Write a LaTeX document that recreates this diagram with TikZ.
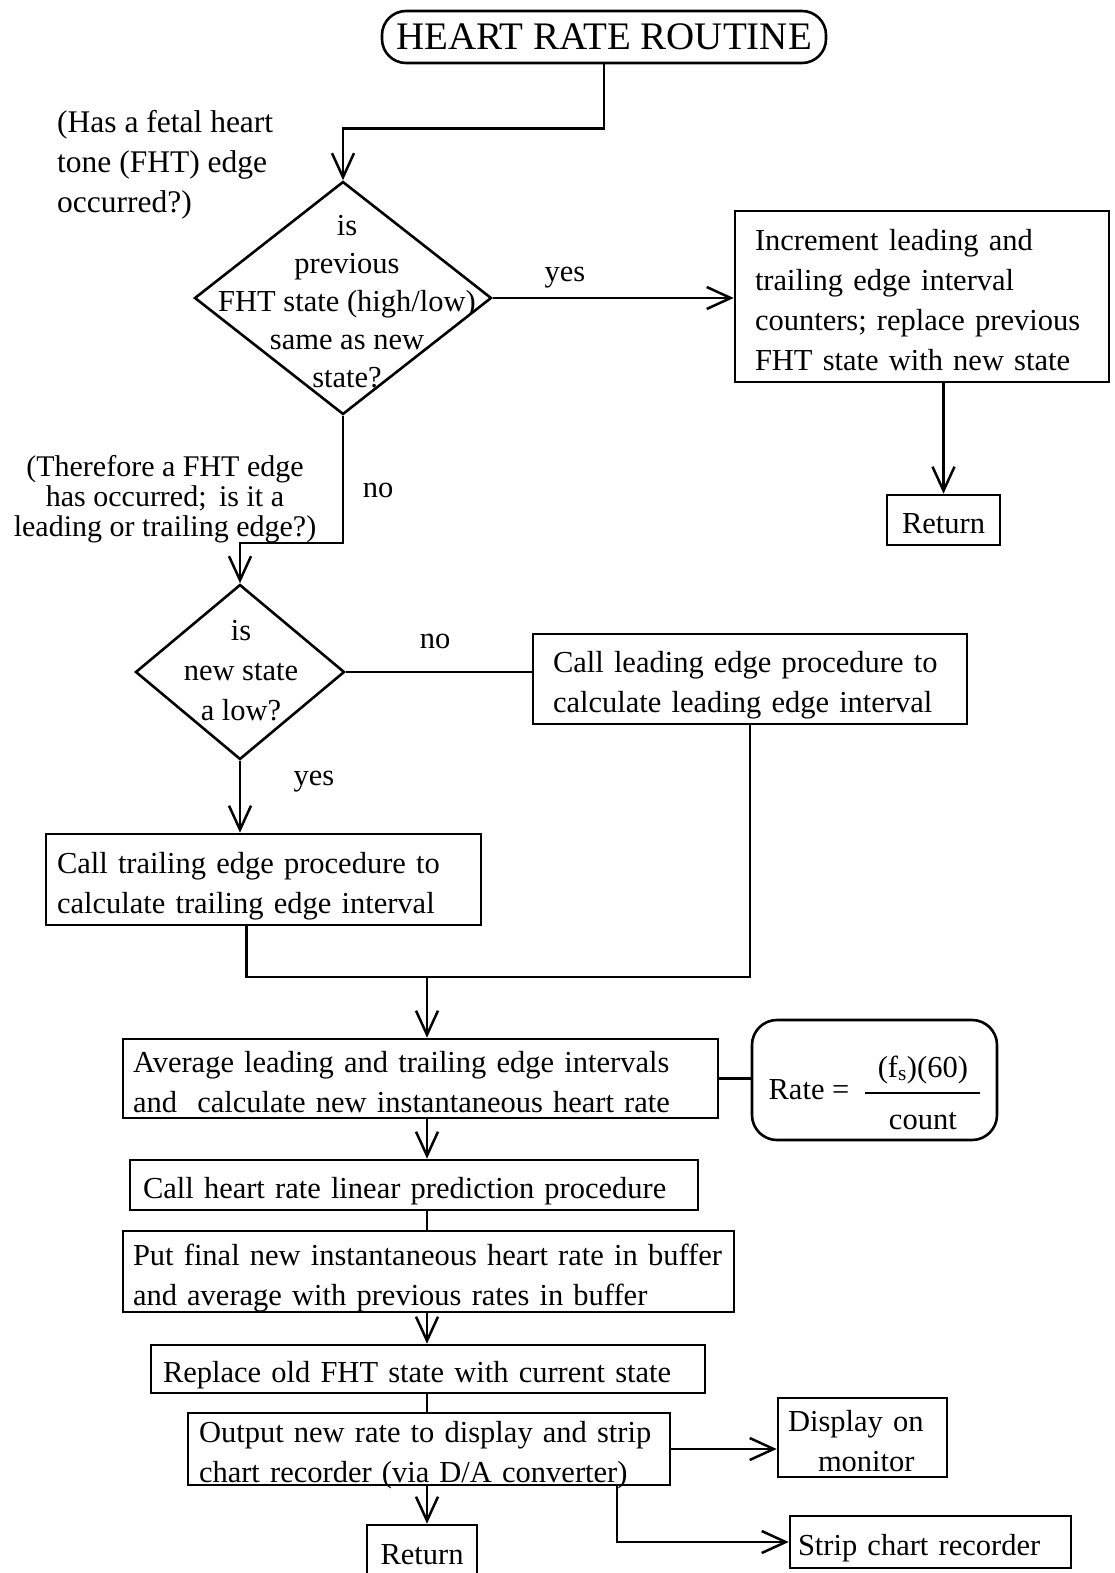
\documentclass[tikz,border=0pt]{standalone}
\usepackage{fontspec}
\setmainfont{Liberation Serif}
\usetikzlibrary{shapes.geometric,arrows.meta}
% one unbreakable line of box text, with a fixed height and depth
\newcommand\tl[1]{\mbox{\raisebox{-1.5pt}[28pt][4pt]{#1}}}

\begin{document}
\begin{tikzpicture}[x=1pt,y=-1pt,
  every node/.style={font=\fontsize{30.5}{40}\selectfont, inner sep=0pt},
  box/.style={draw, line width=2.6pt, align=left, inner sep=0pt},
  dec/.style={draw, diamond, line width=2.6pt, inner sep=0pt},
  lbl/.style={inner sep=0pt},
  conn/.style={line width=2.5pt},
  arr/.style={line width=2.5pt, -{Straight Barb[length=24pt,width=22pt]}}
]
\useasboundingbox (0,0) rectangle (1114,1573);

% start terminal
\node[draw, line width=2.6pt, rounded corners=24pt, minimum width=444pt, minimum height=52pt,
      font=\fontsize{39}{44}\selectfont] (title) at (604,37) {HEART RATE ROUTINE};

% first decision
\node[lbl, anchor=west, align=left, font=\fontsize{31.5}{40}\selectfont] (q1) at (57,165)
  {(Has a fetal heart\\tone (FHT) edge\\occurred?)};
\node[dec, minimum width=297pt, minimum height=233pt] (d1) at (343,298) {};
\node[lbl, align=center, font=\fontsize{30.5}{38}\selectfont] (d1t) at (347,302)
  {is\\previous\\FHT state (high/low)\\same as new\\state?};

\node[box, minimum width=374pt, minimum height=171pt, text width=334pt] (b1) at (922,296.5)
  {\tl{Increment leading and}\\\tl{trailing edge interval}\\\tl{counters; replace previous}\\\tl{FHT state with new state}};
\node[box, minimum width=113pt, minimum height=50pt, align=center] (ret1) at (943.5,520) {\tl{Return}};

% second decision
\node[lbl, align=center, font=\fontsize{30}{30}\selectfont] (q2) at (165,499)
  {(Therefore a FHT edge\\has occurred;\, is it a\\leading or trailing edge?)};
\node[dec, minimum width=209pt, minimum height=175pt] (d2) at (240,672) {};
\node[lbl, align=center] (d2t) at (241,671) {is\\new state\\a low?};

\node[box, minimum width=434pt, minimum height=90pt, text width=394pt] (b2) at (750,679)
  {\tl{Call leading edge procedure to}\\\tl{calculate leading edge interval}};
\node[box, minimum width=435pt, minimum height=91pt, text width=413pt] (b3) at (263.5,879.5)
  {\tl{Call trailing edge procedure to}\\\tl{calculate trailing edge interval}};

\coordinate (m) at (427,977);
\coordinate (sp) at (617,0);

% main sequence
\node[box, minimum width=595pt, minimum height=79pt, text width=575pt] (b4) at (420.5,1078.5)
  {\tl{Average leading and trailing edge intervals}\\\tl{and\ \ calculate new instantaneous heart rate}};
\node[draw, line width=2.6pt, rounded corners=25pt, minimum width=245pt, minimum height=120pt] (rate) at (874.5,1080) {};
\node[lbl] (ratet) at ([yshift=-13pt]rate.center)
  {Rate =\hspace{16pt}{\renewcommand\arraystretch{1.25}\setlength\arrayrulewidth{2pt}%
   \begin{tabular}{@{}c@{}}\makebox[115pt]{(f\textsubscript{s})(60)}\\\hline count\end{tabular}}};
\node[box, minimum width=568pt, minimum height=50pt, text width=542pt] (b5) at (414,1185)
  {\tl{Call heart rate linear prediction procedure}};
\node[box, minimum width=611pt, minimum height=81pt, text width=591pt] (b6) at (428.5,1271.5)
  {\tl{Put final new instantaneous heart rate in buffer}\\\tl{and average with previous rates in buffer}};
\node[box, minimum width=554pt, minimum height=48pt, text width=530pt] (b7) at (428,1369)
  {\tl{Replace old FHT state with current state}};
\node[box, minimum width=482pt, minimum height=72pt, text width=460pt] (b8) at (429,1449)
  {\tl{Output new rate to display and strip}\\\tl{chart recorder (via D/A converter)}};
\node[box, minimum width=169pt, minimum height=79pt, text width=149pt] (disp) at (862.5,1437.5)
  {\tl{Display on}\\\tl{\hspace*{30pt}monitor}};
\node[box, minimum width=110pt, minimum height=52pt, align=center] (ret2) at (422,1551) {\tl{Return}};
\node[box, minimum width=281pt, minimum height=52pt, text width=265pt] (strip) at (930.5,1542)
  {\tl{Strip chart recorder}};

% branch labels
\node[lbl] (yes1) at (565,278) {yes};
\node[lbl] (no1) at (378,490) {no};
\node[lbl] (no2) at (435,641) {no};
\node[lbl] (yes2) at (314,782) {yes};

% connectors
\draw[arr] (title.south) -- ++(0,64) -| (d1.north);
\draw[arr] (d1.east) -- (d1.east -| b1.west);
\draw[arr] (b1.south -| ret1.north) -- (ret1.north);
\draw[arr] (d1.south) -- ++(0,127) -| (d2.north);
\draw[conn] (d2.east) -- (d2.east -| b2.west);
\draw[arr] (d2.south) -- (d2.south |- b3.north);
\draw[conn] ([xshift=-17pt]b3.south) |- (b2.south |- m) -- (b2.south);
\draw[arr] (m) -- (m |- b4.north);
\draw[conn] (b4.east) -- (b4.east -| rate.west);
\draw[arr] (b4.south -| m) -- (b5.north -| m);
\draw[conn] (b5.south -| m) -- (b6.north -| m);
\draw[arr] (b6.south -| m) -- (b7.north -| m);
\draw[conn] (b7.south -| m) -- (b8.north -| m);
\draw[arr] (b8.east) -- (b8.east -| disp.west);
\draw[arr] (b8.south -| m) -- (ret2.north -| m);
\draw[arr] (b8.south -| sp) |- (strip.west);
\end{tikzpicture}
\end{document}
